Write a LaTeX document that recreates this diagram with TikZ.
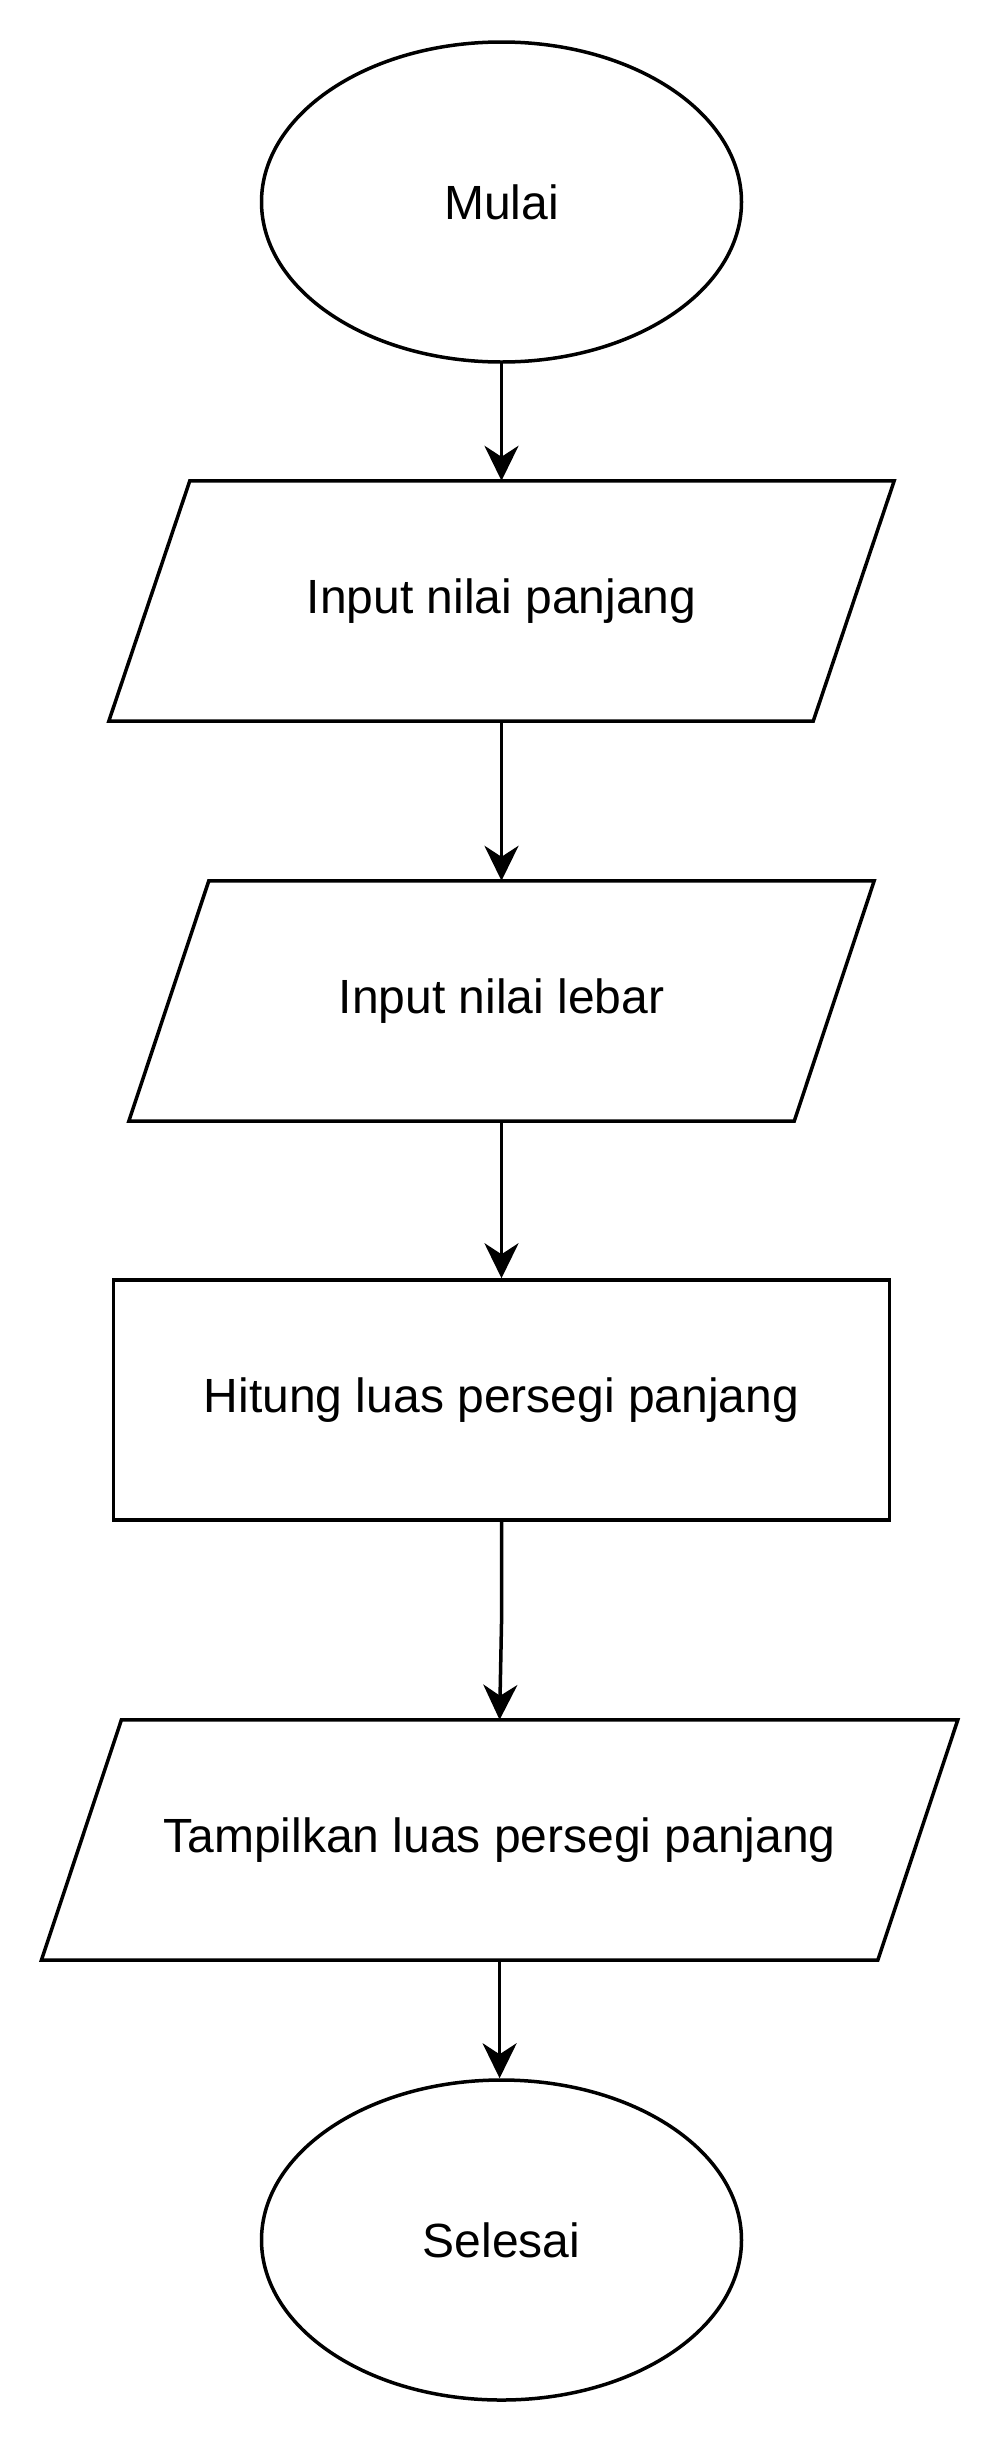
\documentclass[tikz,border=0pt]{standalone}
\usepackage{fontspec}
\setmainfont{Liberation Sans}
\usetikzlibrary{shapes.geometric,arrows.meta,calc}
\begin{document}
\begin{tikzpicture}[x=1pt,y=-1pt,
  every node/.style={font=\fontsize{48}{56}\selectfont, inner sep=0pt},
  term/.style={ellipse, draw, line width=3.5pt, minimum width=480pt, minimum height=320pt},
  procbox/.style={rectangle, draw, line width=3.5pt, minimum width=776pt, minimum height=240pt},
  iobox/.style={rectangle, draw=none, minimum height=240pt},
  shapeline/.style={line width=3.5pt, line join=miter},
  conn/.style={line width=3.5pt, -{Stealth[length=35pt, width=34pt, inset=11pt]}}
]
\useasboundingbox (0,0) rectangle (1000,2444);
\fill[white] (0,0) rectangle (1000,2444);

\node[term] (start) at (501.5,202) {Mulai};

\node[iobox, minimum width=704pt] (p1) at (501.5,601) {Input nilai panjang};
\draw[shapeline] ($(p1.north west)+(40.5,0)$) -- ($(p1.north east)+(40.5,0)$) -- ($(p1.south east)-(40.5,0)$) -- ($(p1.south west)-(40.5,0)$) -- cycle;

\node[iobox, minimum width=665pt] (p2) at (501.5,1001) {Input nilai lebar};
\draw[shapeline] ($(p2.north west)+(40,0)$) -- ($(p2.north east)+(40,0)$) -- ($(p2.south east)-(40,0)$) -- ($(p2.south west)-(40,0)$) -- cycle;

\node[procbox] (calc) at (501.5,1400) {Hitung luas persegi panjang};

\node[iobox, minimum width=836pt] (p3) at (499.6,1840) {Tampilkan luas persegi panjang};
\draw[shapeline] ($(p3.north west)+(40,0)$) -- ($(p3.north east)+(40,0)$) -- ($(p3.south east)-(40,0)$) -- ($(p3.south west)-(40,0)$) -- cycle;

\node[term] (stop) at (501.5,2240) {Selesai};

\draw[conn] (start.south) -- (p1.north);
\draw[conn] (p1.south) -- (p2.north);
\draw[conn] (p2.south) -- (calc.north);
\coordinate (bend) at ($(calc.south)+(0,102)$);
\draw[conn] (calc.south) -- (bend) -- (p3.north);
\draw[conn] (p3.south) -- (p3.south |- stop.north);
\end{tikzpicture}
\end{document}
